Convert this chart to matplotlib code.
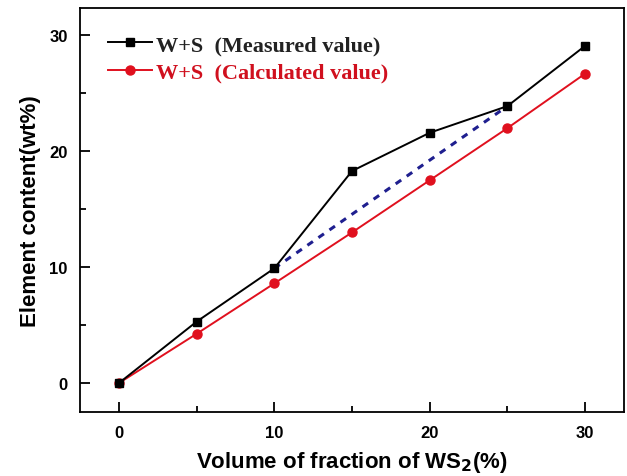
import matplotlib
matplotlib.use('Agg')
import matplotlib.pyplot as plt
from matplotlib.ticker import MultipleLocator

# Data
fractions = [0, 5, 10, 15, 20, 25, 30]
measured = [0, 5.3, 9.9, 18.3, 21.6, 23.9, 29.1]
calculated = [0, 4.25, 8.6, 13.0, 17.5, 22.0, 26.7]
# dashed guide between the 10% and 25% measured points
guide_x = [10, 25]
guide_y = [9.9, 23.9]

fig = plt.figure(figsize=(6.27, 4.77), dpi=100)
ax = fig.add_axes([0.1276, 0.134, 0.8676, 0.848])

ax.plot(guide_x, guide_y, color='#1f1f8f', linestyle=(0, (2.2, 2.2)), linewidth=2.2, zorder=1)
ax.plot(fractions, measured, color='black', marker='s', markersize=5.5, linewidth=1.4,
        label='W+S  (Measured value)', zorder=3)
ax.plot(fractions, calculated, color='#e0101e', marker='o', markersize=6.5, linewidth=1.4,
        label='W+S  (Calculated value)', zorder=2)

ax.set_xlim(-2.5, 32.5)
ax.set_ylim(-2.5, 32.4)
ax.xaxis.set_major_locator(MultipleLocator(10))
ax.xaxis.set_minor_locator(MultipleLocator(5))
ax.yaxis.set_major_locator(MultipleLocator(10))
ax.yaxis.set_minor_locator(MultipleLocator(5))
ax.tick_params(which='major', direction='in', length=7, width=1.3, labelsize=12, pad=9)
ax.tick_params(which='minor', direction='in', length=4, width=1.3)
for lab in ax.get_xticklabels() + ax.get_yticklabels():
    lab.set_fontweight('bold')
    lab.set_family('Liberation Sans')
for sp in ax.spines.values():
    sp.set_linewidth(1.3)

ax.set_xlabel('Volume of fraction of WS$_\\mathbf{2}$(%)', fontsize=16, fontweight='bold',
              family='Liberation Sans', labelpad=7)
ax.set_ylabel('Element content(wt%)', fontsize=16, fontweight='bold',
              family='Liberation Sans', labelpad=6)

leg = ax.legend(loc='upper left', frameon=False, handlelength=2.0, handletextpad=0.15,
                borderaxespad=0.0, labelspacing=0.3, bbox_to_anchor=(0.035, 0.955),
                prop={'family': 'Liberation Serif', 'weight': 'bold', 'size': 16})
for txt, col in zip(leg.get_texts(), ['#222222', '#d0101e']):
    txt.set_color(col)

fig.savefig('out.png', dpi=100)
